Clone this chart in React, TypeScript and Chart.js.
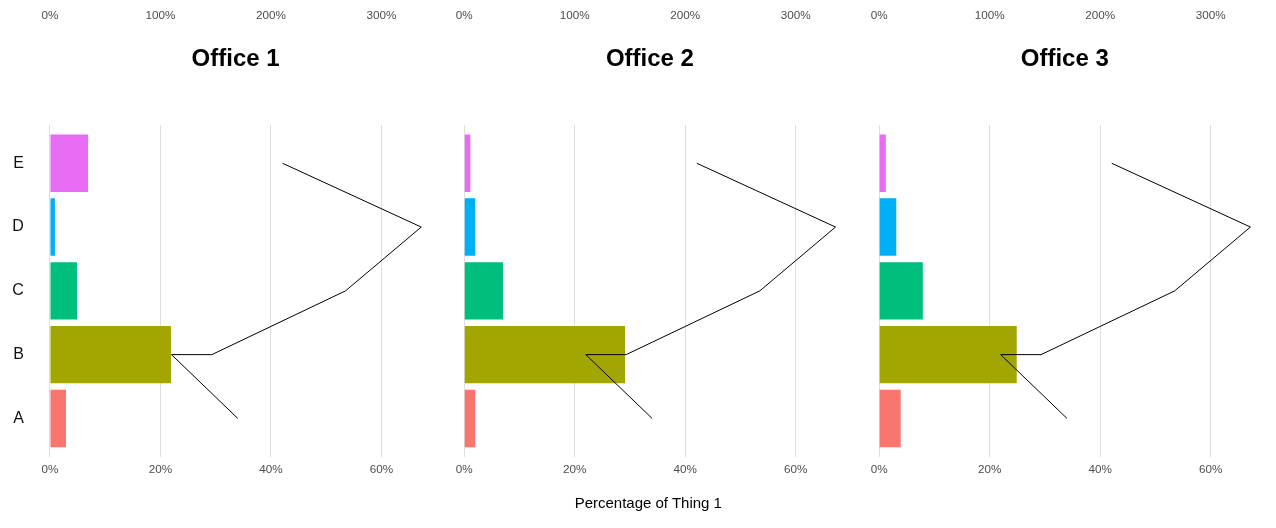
import React, { useEffect, useRef } from "react";
import { Chart, registerables } from "chart.js";

Chart.register(...registerables);

const categories = ["A", "B", "C", "D", "E"];
const offices = ["Office 1", "Office 2", "Office 3"];
const office1Values = [2.9, 21.9, 4.9, 0.9, 6.9];
const office2Values = [2.0, 29.1, 7.0, 2.0, 1.1];
const office3Values = [3.9, 24.9, 7.9, 3.1, 1.2];
const officeValues = [office1Values, office2Values, office3Values];
const lineCategories = ["A", "B", "B", "C", "D", "E"];
const lineValues = [170, 110, 146.5, 267.5, 336, 210.5];
const bottomTicks = [0, 20, 40, 60];
const topTicks = [0, 100, 200, 300];
const barColors = ["#F8766D", "#A3A500", "#00BF7D", "#00B0F6", "#E76BF3"];
const xAxisTitle = "Percentage of Thing 1";

const FONT = "'Liberation Sans', Arial, Helvetica, sans-serif";
const X_MIN = -3.36;
const X_MAX = 70.56;
const SEC_FACTOR = 5;

// layout of the three panels (canvas box + chart-area padding)
const PANELS = [
  { left: 0, width: 440, padLeft: 0, padRight: 0.2, showY: true },
  { left: 440, width: 415, padLeft: 5.7, padRight: 0.9, showY: false },
  { left: 855, width: 421, padLeft: 5.6, padRight: 7, showY: false },
];
const H = 528;
const PLOT_TOP = 125;
const PLOT_BOTTOM = 456.7;
const Y_AXIS_W = 31.4;

function zeroPad(s: any) {
  s.paddingLeft = 0;
  s.paddingRight = 0;
  s.paddingTop = 0;
  s.paddingBottom = 0;
}

function Panel({ idx }: { idx: number }) {
  const ref = useRef<HTMLCanvasElement | null>(null);
  const p = PANELS[idx];
  useEffect(() => {
    if (!ref.current) return;
    const lineData = lineCategories.map((c, i) => ({
      x: lineValues[i],
      y: categories.indexOf(c),
    }));
    const barData = officeValues[idx].map((v, i) => ({ x: v, y: i }));
    const chart = new Chart(ref.current, {
      type: "bar",
      data: {
        datasets: [
          {
            type: "line",
            data: lineData as any,
            xAxisID: "x2",
            yAxisID: "y",
            borderColor: "#000000",
            borderWidth: 1,
            pointRadius: 0,
            tension: 0,
            fill: false,
            order: 0,
          } as any,
          {
            type: "bar",
            data: barData as any,
            xAxisID: "x",
            yAxisID: "y",
            indexAxis: "y",
            backgroundColor: barColors,
            borderWidth: 0,
            categoryPercentage: 0.9,
            barPercentage: 1,
            order: 1,
          } as any,
        ],
      },
      options: {
        responsive: false,
        animation: false,
        indexAxis: "y",
        events: [],
        layout: {
          padding: { left: p.padLeft, right: p.padRight, top: 0, bottom: 0 },
        },
        plugins: {
          legend: { display: false },
          tooltip: { enabled: false },
          title: { display: false },
        },
        scales: {
          x: {
            type: "linear",
            position: "bottom",
            min: X_MIN,
            max: X_MAX,
            offset: false,
            afterBuildTicks: (s: any) => {
              s.ticks = bottomTicks.map((v) => ({ value: v }));
            },
            afterFit: (s: any) => {
              s.height = H - PLOT_BOTTOM;
              zeroPad(s);
            },
            ticks: {
              callback: (v: any) => v + "%",
              color: "#4D4D4D",
              font: { family: FONT, size: 11.7 },
              padding: 5.8,
              maxRotation: 0,
              autoSkip: false,
            },
            grid: { color: "#DEDEDE", lineWidth: 1, drawTicks: false, offset: false },
            border: { display: false },
          },
          x2: {
            type: "linear",
            position: "top",
            min: X_MIN * SEC_FACTOR,
            max: X_MAX * SEC_FACTOR,
            offset: false,
            afterBuildTicks: (s: any) => {
              s.ticks = topTicks.map((v) => ({ value: v }));
            },
            afterFit: (s: any) => {
              s.height = PLOT_TOP;
              zeroPad(s);
            },
            ticks: {
              callback: (v: any) => v + "%",
              color: "#4D4D4D",
              font: { family: FONT, size: 11.7 },
              padding: 102.2,
              maxRotation: 0,
              autoSkip: false,
            },
            grid: { display: false, drawTicks: false },
            border: { display: false },
          },
          y: {
            type: "linear",
            position: "left",
            display: p.showY,
            min: -0.6,
            max: 4.6,
            offset: false,
            afterBuildTicks: (s: any) => {
              s.ticks = categories.map((_, i) => ({ value: i }));
            },
            afterFit: (s: any) => {
              s.width = p.showY ? Y_AXIS_W : 0;
              zeroPad(s);
            },
            ticks: {
              callback: (v: any) => categories[v] ?? "",
              color: "#111111",
              font: { family: FONT, size: 16 },
              padding: 7.5,
              autoSkip: false,
            },
            grid: { display: false, drawTicks: false, offset: false },
            border: { display: false },
          },
        },
      } as any,
    });
    return () => chart.destroy();
  }, [idx]);

  const areaLeft = p.showY ? Y_AXIS_W : p.padLeft;
  const areaRight = p.width - p.padRight;
  const center = p.left + (areaLeft + areaRight) / 2;

  return (
    <>
      <canvas
        ref={ref}
        width={p.width}
        height={H}
        style={{
          position: "absolute",
          left: p.left,
          top: 0,
          width: p.width,
          height: H,
          display: "block",
        }}
      />
      <div
        style={{
          position: "absolute",
          left: center - 120,
          width: 240,
          top: 43.8,
          height: 28,
          lineHeight: "28px",
          textAlign: "center",
          fontFamily: FONT,
          fontWeight: "bold",
          fontSize: 24,
          color: "#000000",
          whiteSpace: "nowrap",
        }}
      >
        {offices[idx]}
      </div>
    </>
  );
}

export default function App() {
  return (
    <div
      style={{
        position: "absolute",
        left: 0,
        top: 0,
        width: 1276,
        height: 528,
        background: "#FFFFFF",
        overflow: "hidden",
      }}
    >
      {offices.map((_, i) => (
        <Panel key={i} idx={i} />
      ))}
      <div
        style={{
          position: "absolute",
          left: 648.3 - 200,
          width: 400,
          top: 494,
          height: 18,
          lineHeight: "18px",
          textAlign: "center",
          fontFamily: FONT,
          fontSize: 15,
          color: "#000000",
          whiteSpace: "nowrap",
        }}
      >
        {xAxisTitle}
      </div>
    </div>
  );
}
